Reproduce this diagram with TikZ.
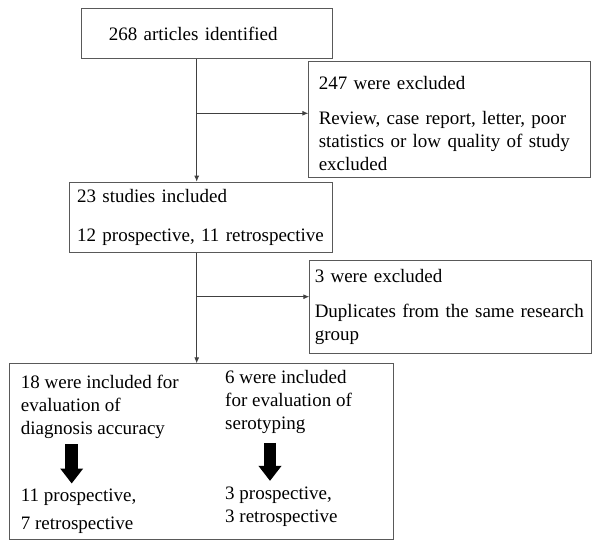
\documentclass[tikz,border=0pt]{standalone}
\usepackage{fontspec}
\setmainfont{Liberation Serif}
\usetikzlibrary{arrows.meta, positioning}

\begin{document}
\begin{tikzpicture}[x=1pt, y=1pt,
box/.style={draw=black!65, line width=0.9pt, rectangle,
anchor=north west, align=left, inner ysep=0pt,
font=\fontsize{19}{23}\selectfont},
txt/.style={anchor=base west, align=left, inner sep=0pt,
font=\fontsize{19}{23}\selectfont},
arrow/.style={-{Latex[length=6pt, width=5pt]}, draw=black!75, line width=0.9pt},
fat/.style={-{Triangle[length=15pt, width=22pt]}, line width=12.7pt}
]
\useasboundingbox (0,0) rectangle (600,-546);

\node[box, inner xsep=27.3pt, text width=196.7pt, minimum height=50pt] (ident) at (81,-8.3) {268 articles identified};
\node[box, inner xsep=10pt, text width=261.7pt, minimum height=116pt] (excl1) at (308.3,-60.7) {\rule{0pt}{22pt}247 were excluded\\[12pt] Review, case report, letter, poor\\ statistics or low quality of study\\ excluded};
\node[box, inner xsep=7.4pt, text width=247.6pt, minimum height=70pt] (incl) at (69.3,-181.7) {23 studies included\\[16.4pt] 12 prospective, 11 retrospective};
\node[box, inner xsep=5pt, text width=271.7pt, minimum height=92.7pt] (excl2) at (309.3,-260) {3 were excluded\\[12pt] Duplicates from the same research\\ group};
\node[box, minimum width=384pt, minimum height=176pt] (split) at (9.3,-363.3) {};

\node[txt] (acc) at (20.7,-434.3) {18 were included for\\ evaluation of\\ diagnosis accuracy};
\node[txt] (accn) at (20.7,-529.3) {11 prospective,\\[4.6pt] 7 retrospective};
\node[txt] (sero) at (225,-429.3) {6 were included\\ for evaluation of\\ serotyping};
\node[txt] (seron) at (225,-522.7) {3 prospective,\\ 3 retrospective};

\draw[fat] ([xshift=51pt, yshift=-5.8pt]acc.south west) -- ([xshift=51pt, yshift=5.4pt]accn.north west);
\draw[fat] ([xshift=45pt, yshift=-9.2pt]sero.south west) -- ([xshift=45pt, yshift=6pt]seron.north west);

\coordinate (spine) at (196.7,0);
\coordinate (fork1) at (196.7,-113.3);
\coordinate (fork2) at (196.7,-296.7);
\draw[arrow] (ident.south -| spine) -- (incl.north -| spine);
\draw[arrow] (fork1) -- (fork1 -| excl1.west);
\draw[arrow] (incl.south -| spine) -- (split.north -| spine);
\draw[arrow] (fork2) -- (fork2 -| excl2.west);

\end{tikzpicture}
\end{document}
